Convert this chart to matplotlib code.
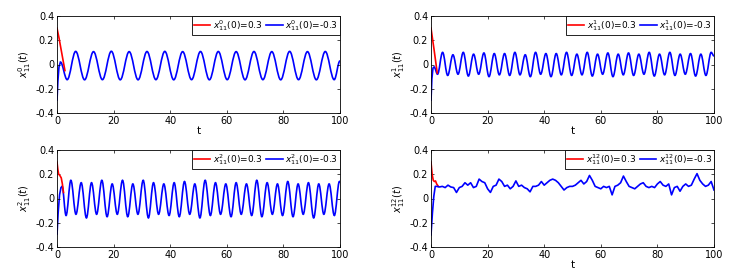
import numpy as np
import matplotlib
matplotlib.use("Agg")
import matplotlib.pyplot as plt
from matplotlib.path import Path
from matplotlib.patches import PathPatch
from matplotlib.lines import Line2D

plt.rcParams['font.family'] = ['DejaVu Sans']
plt.rcParams['axes.unicode_minus'] = False
plt.rcParams['mathtext.fontset'] = 'dejavusans'

# ---------------- data ----------------
x_ticks = [0, 20, 40, 60, 80, 100]
y_ticks = [-0.4, -0.2, 0, 0.2, 0.4]
y_tick_labels = ['-0.4', '-0.2', '0', '0.2', '0.4']
superscripts = ['0', '1', '2', '12']

# Panel 0 (top-left)
p0_red_t = [0, 0.7, 1.4, 2.1, 2.8]
p0_red_v = [0.30, 0.22, 0.13, 0.04, -0.05]
p0_blue_tr_t = [0, 0.3, 0.7, 1.2]
p0_blue_tr_v = [-0.30, -0.14, -0.02, 0.02]
p0_blue_ext_t = [1.2, 3.6, 6.6, 9.75, 12.9, 16.05, 19.2, 22.35, 25.5, 28.65, 31.8,
                 34.95, 38.1, 41.25, 44.4, 47.55, 50.7, 53.85, 57.0, 60.15, 63.3,
                 66.45, 69.6, 72.75, 75.9, 79.05, 82.2, 85.35, 88.5, 91.65, 94.8,
                 97.95, 100.0]
p0_blue_ext_v = [0.02, -0.125, 0.108, -0.126, 0.106, -0.125, 0.109, -0.126, 0.106,
                 -0.126, 0.107, -0.125, 0.108, -0.126, 0.106, -0.125, 0.107, -0.126,
                 0.107, -0.125, 0.106, -0.126, 0.107, -0.125, 0.106, -0.126, 0.108,
                 -0.125, 0.106, -0.126, 0.107, -0.125, 0.03]

# Panel 1 (top-right)
p1_red_t = [0, 1.1, 2.2]
p1_red_v = [0.30, 0.12, -0.07]
p1_blue_tr_t = [0, 0.3, 0.7, 1.1]
p1_blue_tr_v = [-0.30, -0.12, -0.03, -0.02]
p1_blue_ext_t = [1.1, 2.3, 4.1, 5.9, 7.75, 9.55, 11.4, 13.2, 15.05, 16.85, 18.7, 20.5,
                 22.35, 24.15, 26.0, 27.8, 29.65, 31.45, 33.3, 35.1, 36.95, 38.75,
                 40.6, 42.4, 44.25, 46.05, 47.9, 49.7, 51.55, 53.35, 55.2, 57.0,
                 58.85, 60.65, 62.5, 64.3, 66.15, 67.95, 69.8, 71.6, 73.45, 75.25,
                 77.1, 78.9, 80.75, 82.55, 84.4, 86.2, 88.05, 89.85, 91.7, 93.5,
                 95.35, 97.15, 99.0, 100.0]
p1_blue_ext_v = [-0.02, -0.08, 0.10, -0.09, 0.08, -0.08, 0.10, -0.095, 0.085, -0.08,
                 0.095, -0.10, 0.09, -0.085, 0.09, -0.09, 0.10, -0.085, 0.08, -0.10,
                 0.10, -0.08, 0.09, -0.10, 0.09, -0.085, 0.10, -0.09, 0.085, -0.085,
                 0.10, -0.095, 0.085, -0.08, 0.095, -0.10, 0.085, -0.085, 0.095, -0.09,
                 0.085, -0.08, 0.10, -0.095, 0.085, -0.085, 0.10, -0.09, 0.085, -0.08,
                 0.09, -0.095, 0.085, -0.09, 0.10, 0.07]

# Panel 2 (bottom-left)
p2_red_t = [0, 0.3, 0.6, 1.0, 1.5, 1.9, 2.3]
p2_red_v = [0.30, 0.24, 0.20, 0.19, 0.17, 0.12, 0.05]
p2_blue_tr_t = [0, 0.4, 0.9, 1.4, 1.8]
p2_blue_tr_v = [-0.30, -0.12, 0.03, 0.09, 0.10]
p2_blue_ext_t = [1.8, 3.2, 4.9, 6.7, 8.55, 10.4, 12.2, 14.0, 15.85, 17.7, 19.5, 21.3,
                 23.15, 25.0, 26.8, 28.6, 30.45, 32.3, 34.1, 35.9, 37.75, 39.6, 41.4,
                 43.2, 45.05, 46.9, 48.7, 50.5, 52.35, 54.2, 56.0, 57.8, 59.65, 61.5,
                 63.3, 65.1, 66.95, 68.8, 70.6, 72.4, 74.25, 76.1, 77.9, 79.7, 81.55,
                 83.4, 85.2, 87.0, 88.85, 90.7, 92.5, 94.3, 96.15, 98.0, 99.8, 100.0]
p2_blue_ext_v = [0.10, -0.14, 0.15, -0.13, 0.13, -0.16, 0.13, -0.13, 0.15, -0.15,
                 0.12, -0.13, 0.15, -0.15, 0.12, -0.13, 0.15, -0.16, 0.13, -0.13,
                 0.12, -0.14, 0.13, -0.15, 0.14, -0.13, 0.12, -0.16, 0.15, -0.14,
                 0.13, -0.13, 0.12, -0.15, 0.13, -0.13, 0.12, -0.14, 0.15, -0.15,
                 0.13, -0.13, 0.12, -0.14, 0.14, -0.15, 0.12, -0.13, 0.13, -0.16,
                 0.12, -0.13, 0.12, -0.14, 0.14, 0.135]

# Panel 3 (bottom-right)
p3_red_t = [0, 0.4, 0.8, 1.2, 1.6, 2.0, 2.6]
p3_red_v = [0.30, 0.20, 0.15, 0.14, 0.145, 0.12, 0.10]
p3_blue_t = [0, 0.5, 1.0, 1.5]
p3_blue_v = [-0.30, -0.12, 0.02, 0.10]
p3_blue_noise_v = [0.10, 0.095, 0.10, 0.09, 0.11, 0.095, 0.09, 0.05, 0.09, 0.10,
                   0.13, 0.11, 0.13, 0.09, 0.10, 0.16, 0.14, 0.13, 0.08, 0.05,
                   0.10, 0.11, 0.16, 0.14, 0.10, 0.11, 0.08, 0.10, 0.145, 0.10,
                   0.11, 0.09, 0.08, 0.055, 0.10, 0.10, 0.11, 0.14, 0.11, 0.13,
                   0.15, 0.16, 0.15, 0.13, 0.10, 0.07, 0.09, 0.10, 0.10, 0.11,
                   0.13, 0.15, 0.12, 0.14, 0.19, 0.15, 0.10, 0.09, 0.08, 0.10,
                   0.09, 0.10, 0.03, 0.10, 0.11, 0.13, 0.185, 0.14, 0.10, 0.09,
                   0.08, 0.10, 0.12, 0.13, 0.10, 0.09, 0.10, 0.09, 0.12, 0.14,
                   0.11, 0.10, 0.12, 0.03, 0.09, 0.10, 0.06, 0.10, 0.12, 0.10,
                   0.11, 0.16, 0.205, 0.15, 0.12, 0.10, 0.11, 0.14, 0.07]

RED = (1, 0, 0)
BLUE = (0, 0, 1)
LW = 1.2


def smooth_path(poly_t, poly_v, ext_t, ext_v, k=0.364):
    verts = [(poly_t[0], poly_v[0])]
    codes = [Path.MOVETO]
    for t, v in zip(poly_t[1:], poly_v[1:]):
        verts.append((t, v))
        codes.append(Path.LINETO)
    for i in range(1, len(ext_t)):
        t0, v0, t1, v1 = ext_t[i - 1], ext_v[i - 1], ext_t[i], ext_v[i]
        dt = t1 - t0
        verts += [(t0 + k * dt, v0), (t1 - k * dt, v1), (t1, v1)]
        codes += [Path.CURVE4] * 3
    return Path(verts, codes)


W, H = 730, 273
fig = plt.figure(figsize=(W / 100, H / 100), dpi=100)
axes_px = [(57, 16), (431, 16), (57, 150), (431, 150)]
aw, ah = 283, 97

panels = []
for i, (x0, y0) in enumerate(axes_px):
    ax = fig.add_axes([x0 / W, 1 - (y0 + ah) / H, aw / W, ah / H])
    panels.append(ax)

FS = 7
for i, ax in enumerate(panels):
    s = superscripts[i]
    if i == 0:
        ax.plot(p0_red_t, p0_red_v, color=RED, lw=LW)
        ax.add_patch(PathPatch(smooth_path(p0_blue_tr_t, p0_blue_tr_v, p0_blue_ext_t, p0_blue_ext_v),
                               fill=False, edgecolor=BLUE, lw=LW))
    elif i == 1:
        ax.plot(p1_red_t, p1_red_v, color=RED, lw=LW)
        ax.add_patch(PathPatch(smooth_path(p1_blue_tr_t, p1_blue_tr_v, p1_blue_ext_t, p1_blue_ext_v),
                               fill=False, edgecolor=BLUE, lw=LW))
    elif i == 2:
        ax.plot(p2_red_t, p2_red_v, color=RED, lw=LW)
        ax.add_patch(PathPatch(smooth_path(p2_blue_tr_t, p2_blue_tr_v, p2_blue_ext_t, p2_blue_ext_v),
                               fill=False, edgecolor=BLUE, lw=LW))
    else:
        ax.plot(p3_red_t, p3_red_v, color=RED, lw=LW)
        t_noise = np.arange(2, 2 + len(p3_blue_noise_v))
        ax.plot(list(p3_blue_t) + list(t_noise), list(p3_blue_v) + list(p3_blue_noise_v),
                color=BLUE, lw=LW)
    ax.set_xlim(0, 100)
    ax.set_ylim(-0.4, 0.4)
    ax.set_xticks(x_ticks)
    ax.set_yticks(y_ticks)
    ax.set_yticklabels(y_tick_labels)
    ax.tick_params(direction='in', length=2.5, width=0.5, labelsize=FS, pad=2,
                   top=True, right=True)
    for sp in ax.spines.values():
        sp.set_linewidth(0.6)
    ax.set_ylabel(r'$x_{11}^{%s}(t)$' % s, fontsize=FS, labelpad=2)
    if i != 2:
        ax.set_xlabel('t', fontsize=FS + 0.5, labelpad=0)
    handles = [Line2D([], [], color=RED, lw=LW), Line2D([], [], color=BLUE, lw=LW)]
    labels = [r'$x_{11}^{%s}$(0)=0.3' % s, r'$x_{11}^{%s}$(0)=-0.3' % s]
    leg = ax.legend(handles, labels, loc='upper right', ncol=2, fontsize=FS - 0.5,
                    frameon=True, fancybox=False, framealpha=1, edgecolor='black',
                    borderaxespad=0, handlelength=1.8, handletextpad=0.3,
                    columnspacing=0.4, borderpad=0.2)
    leg.get_frame().set_linewidth(0.6)

fig.savefig('out.png', dpi=100)
